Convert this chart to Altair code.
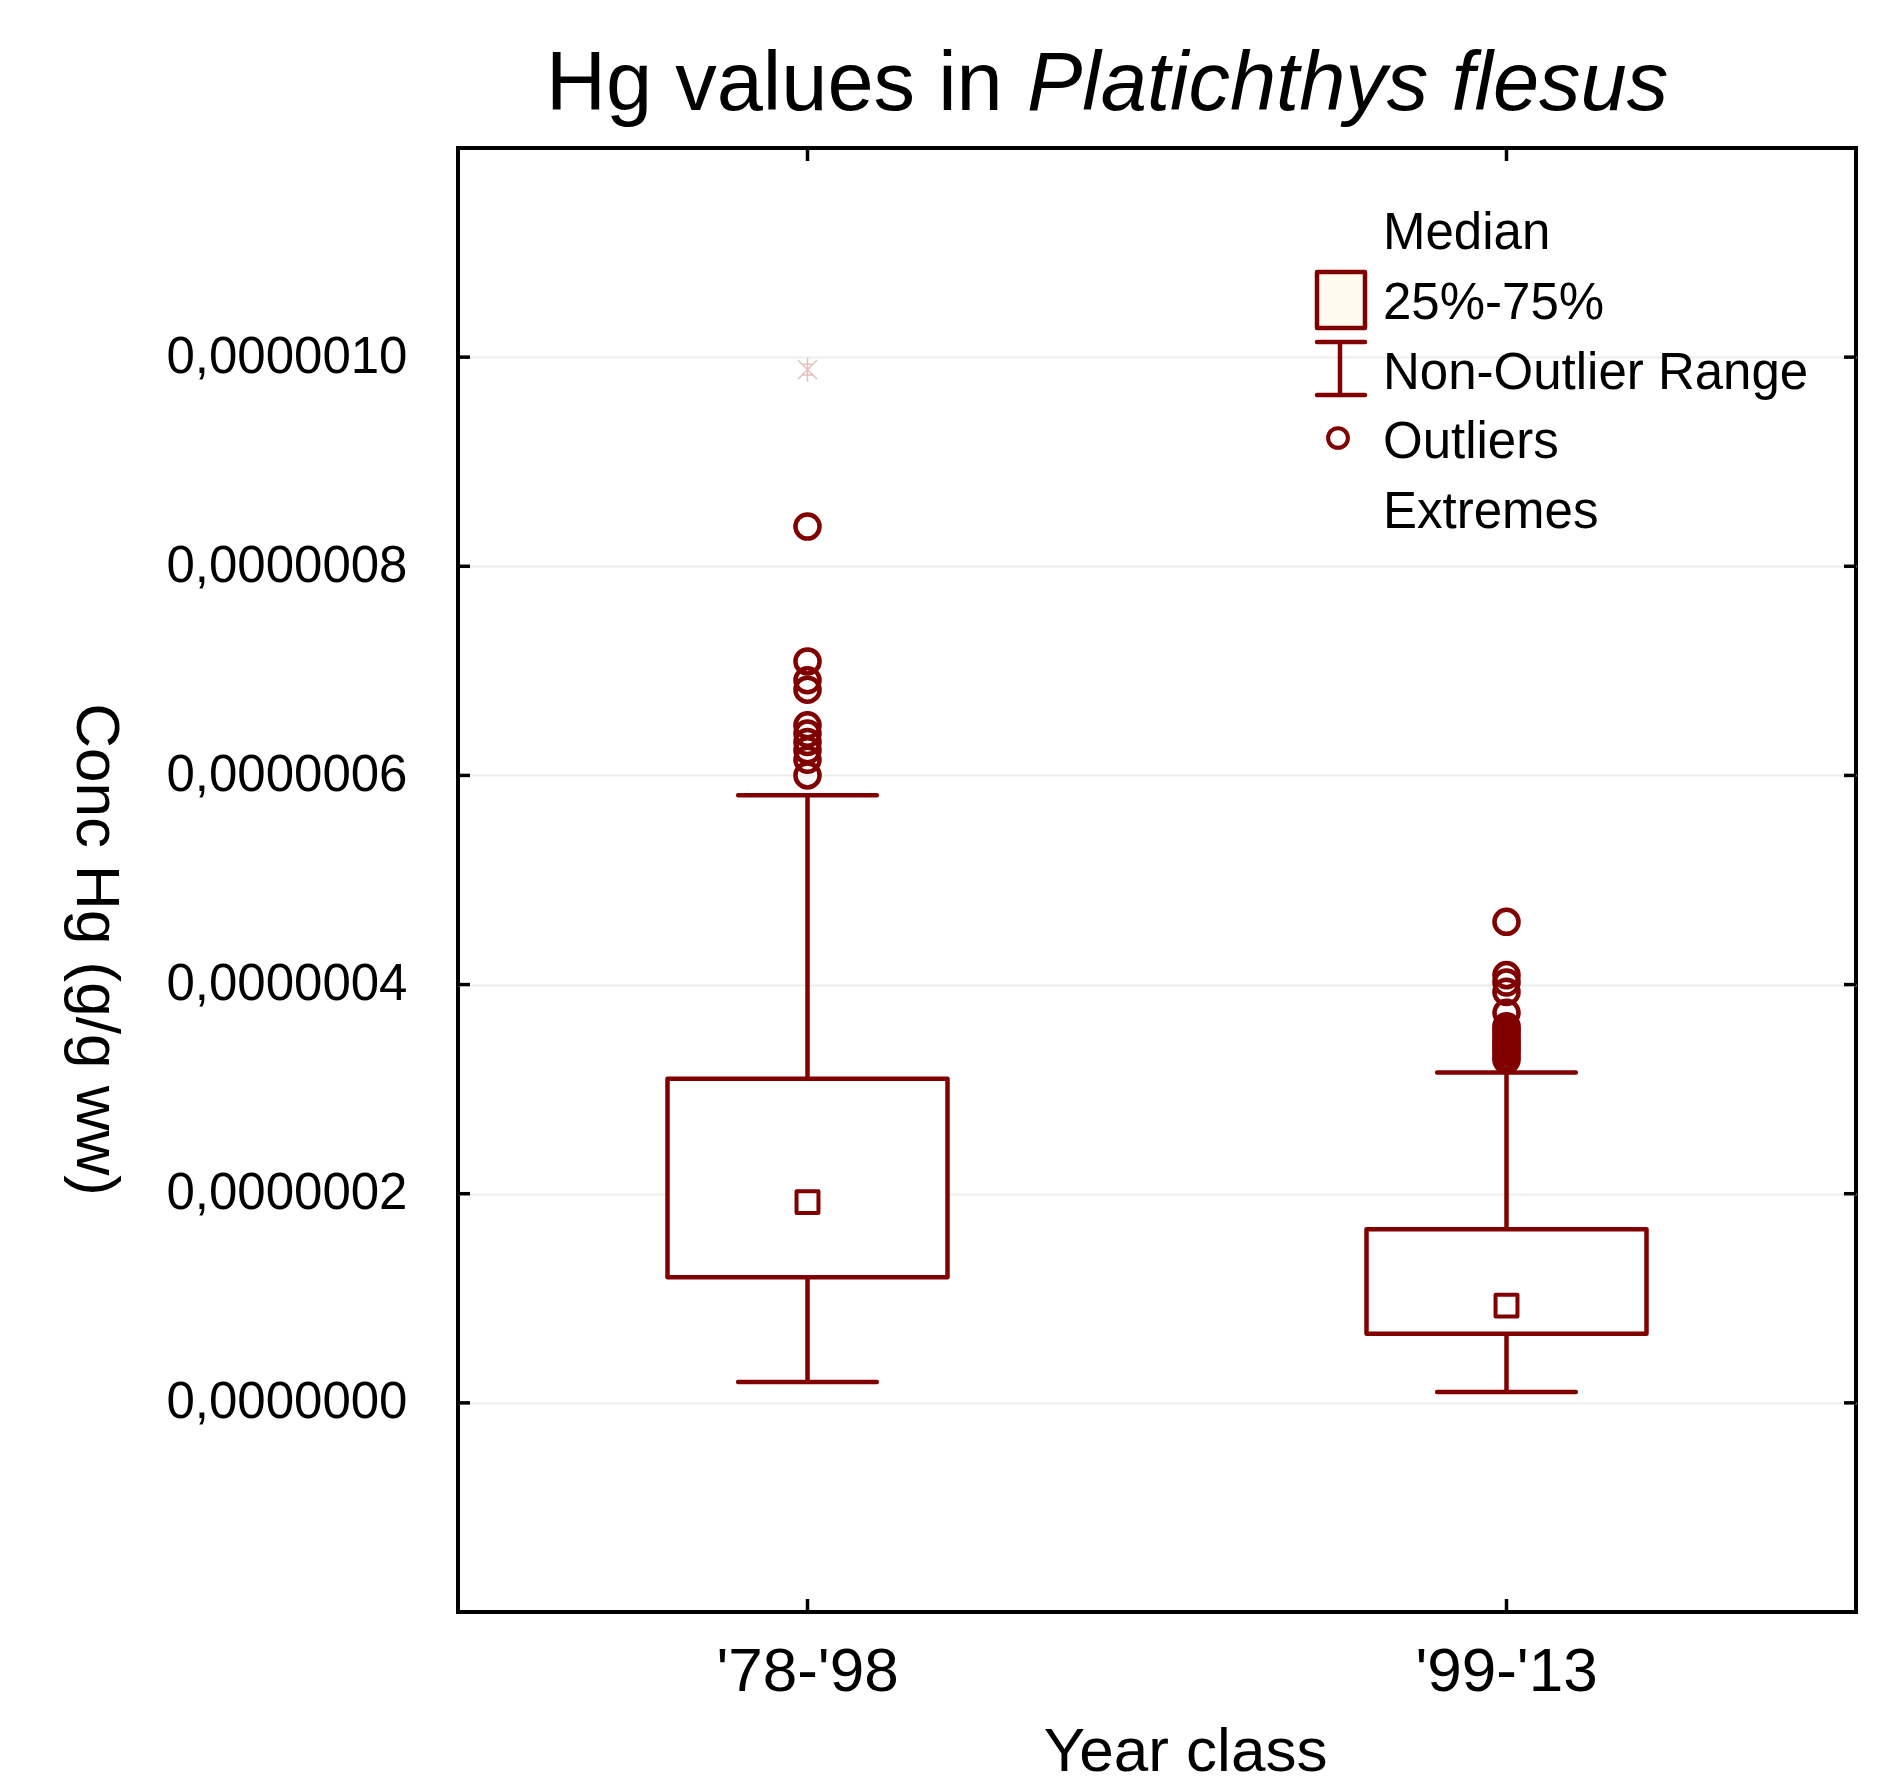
import altair as alt
import pandas as pd

# ---------------- data ----------------
categories = ["'78-'98", "'99-'13"]
q1 = [1.20e-7, 6.6e-8]
q3 = [3.10e-7, 1.66e-7]
median = [1.92e-7, 9.3e-8]
whisk_lo = [2.0e-8, 1.05e-8]
whisk_hi = [5.81e-7, 3.16e-7]
outliers_78 = [6.00e-7, 6.15e-7, 6.24e-7, 6.32e-7, 6.40e-7, 6.48e-7, 6.82e-7, 6.91e-7, 7.09e-7, 8.38e-7]
outliers_99 = [3.28e-7, 3.31e-7, 3.35e-7, 3.38e-7, 3.41e-7, 3.44e-7, 3.47e-7, 3.50e-7, 3.54e-7,
               3.57e-7, 3.60e-7, 3.73e-7, 3.93e-7, 4.02e-7, 4.09e-7, 4.60e-7]
extremes_78 = [9.88e-7]
y_ticks = [0, 2e-7, 4e-7, 6e-7, 8e-7, 1e-6]
y_domain = [-2e-7, 1.2e-6]
legend_labels = ["Median", "25%-75%", "Non-Outlier Range", "Outliers", "Extremes"]
title_parts = ["Hg values in ", "Platichthys flesus"]
x_title = "Year class"
y_title = "Conc Hg (g/g ww)"

# ---------------- style ----------------
RED = "#800000"
W, H = 1398, 1464
FONT = "Liberation Sans"
LW = 4.5

box_df = pd.DataFrame({"cls": categories, "q1": q1, "q3": q3, "med": median,
                       "lo": whisk_lo, "hi": whisk_hi})
out_df = pd.DataFrame({"cls": [categories[0]] * len(outliers_78) + [categories[1]] * len(outliers_99),
                       "v": outliers_78 + outliers_99})
ext_df = pd.DataFrame({"cls": [categories[0]] * len(extremes_78), "v": extremes_78})
caps_df = pd.DataFrame({"cls": categories * 2, "v": whisk_lo + whisk_hi})
ytick_df = pd.DataFrame({"v": y_ticks})
cat_df = pd.DataFrame({"cls": categories})
one = pd.DataFrame({"k": [0]})

x_scale = alt.Scale(type="band", domain=categories, paddingInner=0, paddingOuter=0)
x_axis = alt.Axis(title=x_title, labelFontSize=62, labelAngle=0, labelBaseline="alphabetic",
                  labelPadding=78, labelLimit=0, ticks=False, tickSize=0, domain=False, grid=False,
                  labelColor="black", titleColor="black", labelFont=FONT, titleFont=FONT,
                  titleFontSize=62, titleFontWeight="normal", titleX=727, titleY=158,
                  titleAlign="center", titleBaseline="alphabetic", titleLimit=0)
y_scale = alt.Scale(domain=y_domain, nice=False, zero=False)
y_axis = alt.Axis(title=y_title, values=y_ticks,
                  labelExpr="replace(format(datum.value, '.7f'), '.', ',')",
                  labelFontSize=51, labelPadding=51, labelLimit=0, ticks=False, tickSize=0,
                  domain=False, grid=True, gridColor="#ededed", gridWidth=2,
                  labelColor="black", titleColor="black", labelFont=FONT, titleFont=FONT,
                  titleFontSize=62, titleFontWeight="normal", titleAngle=90,
                  titleX=-382, titleY=801, titleAlign="center", titleBaseline="alphabetic",
                  titleLimit=0)


def xe():
    return alt.X("cls:N", scale=x_scale, axis=x_axis)


def ye(f):
    return alt.Y(f, scale=y_scale, axis=y_axis)


whisker = alt.Chart(box_df).mark_rule(color=RED, strokeWidth=LW).encode(
    x=xe(), y=ye("hi:Q"), y2="lo:Q")
box = alt.Chart(box_df).mark_bar(size=280, fill="white", stroke=RED, strokeWidth=LW,
                                 strokeJoin="round", opacity=1).encode(
    x=xe(), y=ye("q3:Q"), y2="q1:Q")
caps = alt.Chart(caps_df).mark_tick(color=RED, thickness=LW, size=143, orient="horizontal",
                                    cornerRadius=2, opacity=1).encode(x=xe(), y=ye("v:Q"))
med = alt.Chart(box_df).mark_point(shape="square", size=480, filled=False, color=RED,
                                   strokeWidth=4, strokeJoin="round", opacity=1).encode(
    x=xe(), y=ye("med:Q"))
outl = alt.Chart(out_df).mark_point(shape="circle", size=580, filled=False, color=RED,
                                    strokeWidth=4.5, opacity=1).encode(x=xe(), y=ye("v:Q"))
ASTER = "M0,-1V1M-0.8,-0.8L0.8,0.8M-0.8,0.8L0.8,-0.8M-0.5,-0.45H0.5M-0.5,0.45H0.5"
ext = alt.Chart(ext_df).mark_point(shape=ASTER, size=576, filled=False, color="#e6c0c0",
                                   strokeWidth=1.5, opacity=1).encode(x=xe(), y=ye("v:Q"))

# inward ticks on all four sides
tl = alt.Chart(ytick_df).mark_rule(color="black", strokeWidth=3.5).encode(
    y=ye("v:Q"), x=alt.value(0), x2=alt.value(12))
tr = alt.Chart(ytick_df).mark_rule(color="black", strokeWidth=3.5).encode(
    y=ye("v:Q"), x=alt.value(W - 12), x2=alt.value(W))
tb = alt.Chart(cat_df).mark_rule(color="black", strokeWidth=3.5).encode(
    x=xe(), y=alt.value(H - 13), y2=alt.value(H))
tt = alt.Chart(cat_df).mark_rule(color="black", strokeWidth=3.5).encode(
    x=xe(), y=alt.value(0), y2=alt.value(13))

# legend
leg_text = alt.Chart(one).mark_text(align="left", baseline="alphabetic", fontSize=51,
                                    lineHeight=69.8, font=FONT, color="black").encode(
    x=alt.value(925), y=alt.value(101), text=alt.value(legend_labels))
leg_box = alt.Chart(one).mark_rect(fill="#fffaf0", stroke=RED, strokeWidth=LW,
                                   strokeJoin="round").encode(
    x=alt.value(859), x2=alt.value(907), y=alt.value(124), y2=alt.value(180))
leg_wv = alt.Chart(one).mark_rule(color=RED, strokeWidth=LW).encode(
    x=alt.value(882), y=alt.value(194), y2=alt.value(247))
leg_wt = alt.Chart(one).mark_rule(color=RED, strokeWidth=LW, strokeCap="round").encode(
    x=alt.value(859), x2=alt.value(907), y=alt.value(194))
leg_wb = alt.Chart(one).mark_rule(color=RED, strokeWidth=LW, strokeCap="round").encode(
    x=alt.value(859), x2=alt.value(907), y=alt.value(247))
leg_c = alt.Chart(one).mark_point(shape="circle", size=390, filled=False, color=RED,
                                  strokeWidth=4, opacity=1).encode(
    x=alt.value(880), y=alt.value(290))

# title (mixed normal / italic)
t1 = alt.Chart(one).mark_text(align="left", baseline="alphabetic", fontSize=83, font=FONT,
                              color="black").encode(
    x=alt.value(88), y=alt.value(-38), text=alt.value(title_parts[0]))
t2 = alt.Chart(one).mark_text(align="left", baseline="alphabetic", fontSize=83, font=FONT,
                              fontStyle="italic", color="black").encode(
    x=alt.value(569), y=alt.value(-38), text=alt.value(title_parts[1]))

chart = alt.layer(
    whisker, box, caps, med, outl, ext, tl, tr, tb, tt,
    leg_box, leg_wv, leg_wt, leg_wb, leg_c, leg_text, t1, t2
).properties(
    width=W, height=H,
    autosize=alt.AutoSizeParams(type="none"),
    padding={"left": 450, "top": 140, "right": 20, "bottom": 170},
).configure(
    font=FONT
).configure_view(
    stroke="black", strokeWidth=4
)

chart.save("out.html", embed_options={"renderer": "svg", "actions": False})
